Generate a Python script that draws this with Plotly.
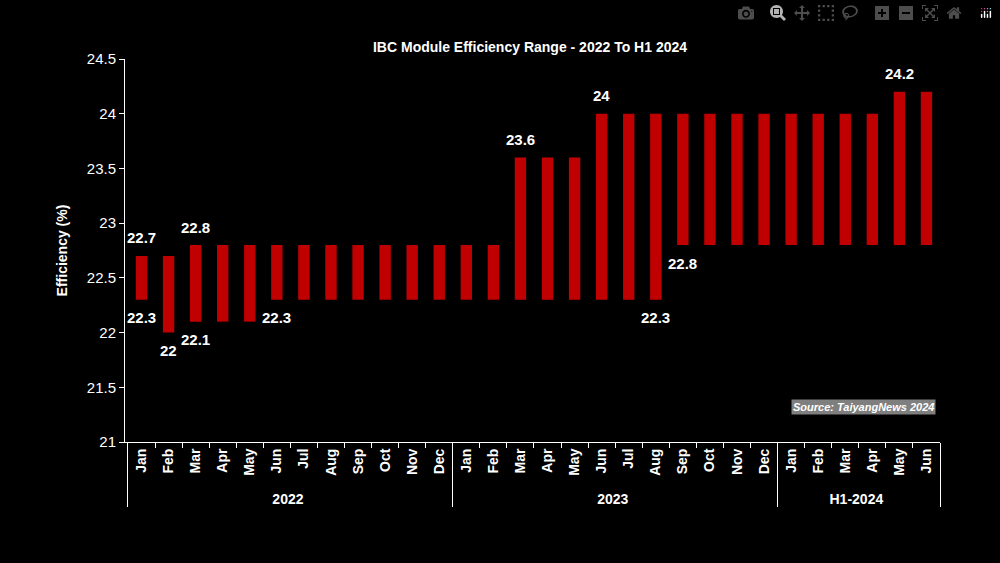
import plotly.graph_objects as go

years = ["2022"]*12 + ["2023"]*12 + ["H1-2024"]*6
months = ["Jan","Feb","Mar","Apr","May","Jun","Jul","Aug","Sep","Oct","Nov","Dec"]*2 + ["Jan","Feb","Mar","Apr","May","Jun"]
low = [22.3,22.0,22.1,22.1,22.1,22.3,22.3,22.3,22.3,22.3,22.3,22.3,
       22.3,22.3,22.3,22.3,22.3,22.3,22.3,22.3,22.8,22.8,22.8,22.8,
       22.8,22.8,22.8,22.8,22.8,22.8]
high = [22.7,22.7,22.8,22.8,22.8,22.8,22.8,22.8,22.8,22.8,22.8,22.8,
        22.8,22.8,23.6,23.6,23.6,24.0,24.0,24.0,24.0,24.0,24.0,24.0,
        24.0,24.0,24.0,24.0,24.2,24.2]
labels = [(0,"high"),(0,"low"),(1,"low"),(2,"high"),(2,"low"),(5,"low"),
          (14,"high"),(17,"high"),(19,"low"),(20,"low"),(28,"high")]

fig = go.Figure(go.Bar(x=[[f"<b>{y}</b>" for y in years], [f"<b>{m}</b>" for m in months]],
                       y=[h-l for h, l in zip(high, low)], base=low,
                       marker=dict(color="#c00000", line=dict(width=0)), width=0.42))
for i, k in labels:
    v = high[i] if k == "high" else low[i]
    fig.add_annotation(x=i, y=v, text=f"<b>{v:g}</b>", showarrow=False,
                       yshift=18 if k == "high" else -18,
                       font=dict(color="white", size=15, family="Liberation Sans"))
fig.add_annotation(xref="paper", yref="paper", x=0.995, y=0.07, text="<b><i>Source: TaiyangNews 2024</i></b>",
                   showarrow=False, bgcolor="#7f7f7f", font=dict(color="white", size=11), xanchor="right")
fig.update_layout(
    width=1000, height=563, paper_bgcolor="black", plot_bgcolor="black",
    margin=dict(l=125, r=60, t=59, b=121),
    title=dict(text="<b>IBC Module Efficiency Range - 2022 To H1 2024</b>", x=0.53, y=0.925,
               font=dict(color="white", size=14, family="Liberation Sans")),
    font=dict(color="white", family="Liberation Sans", size=14),
    showlegend=False,
    xaxis=dict(tickangle=-90, showgrid=False, linecolor="white", showline=True,
               ticks="outside", tickcolor="white", dividercolor="white",
               tickfont=dict(size=14, color="white")),
    yaxis=dict(range=[21, 24.5], dtick=0.5, showgrid=False, showline=True, linecolor="white",
               ticks="outside", tickcolor="white", title=dict(text="<b>Efficiency (%)</b>", font=dict(size=14)),
               tickfont=dict(size=15)),
)
fig.write_html("out.html", post_script="document.body.style.margin='0';document.body.style.background='black';")
